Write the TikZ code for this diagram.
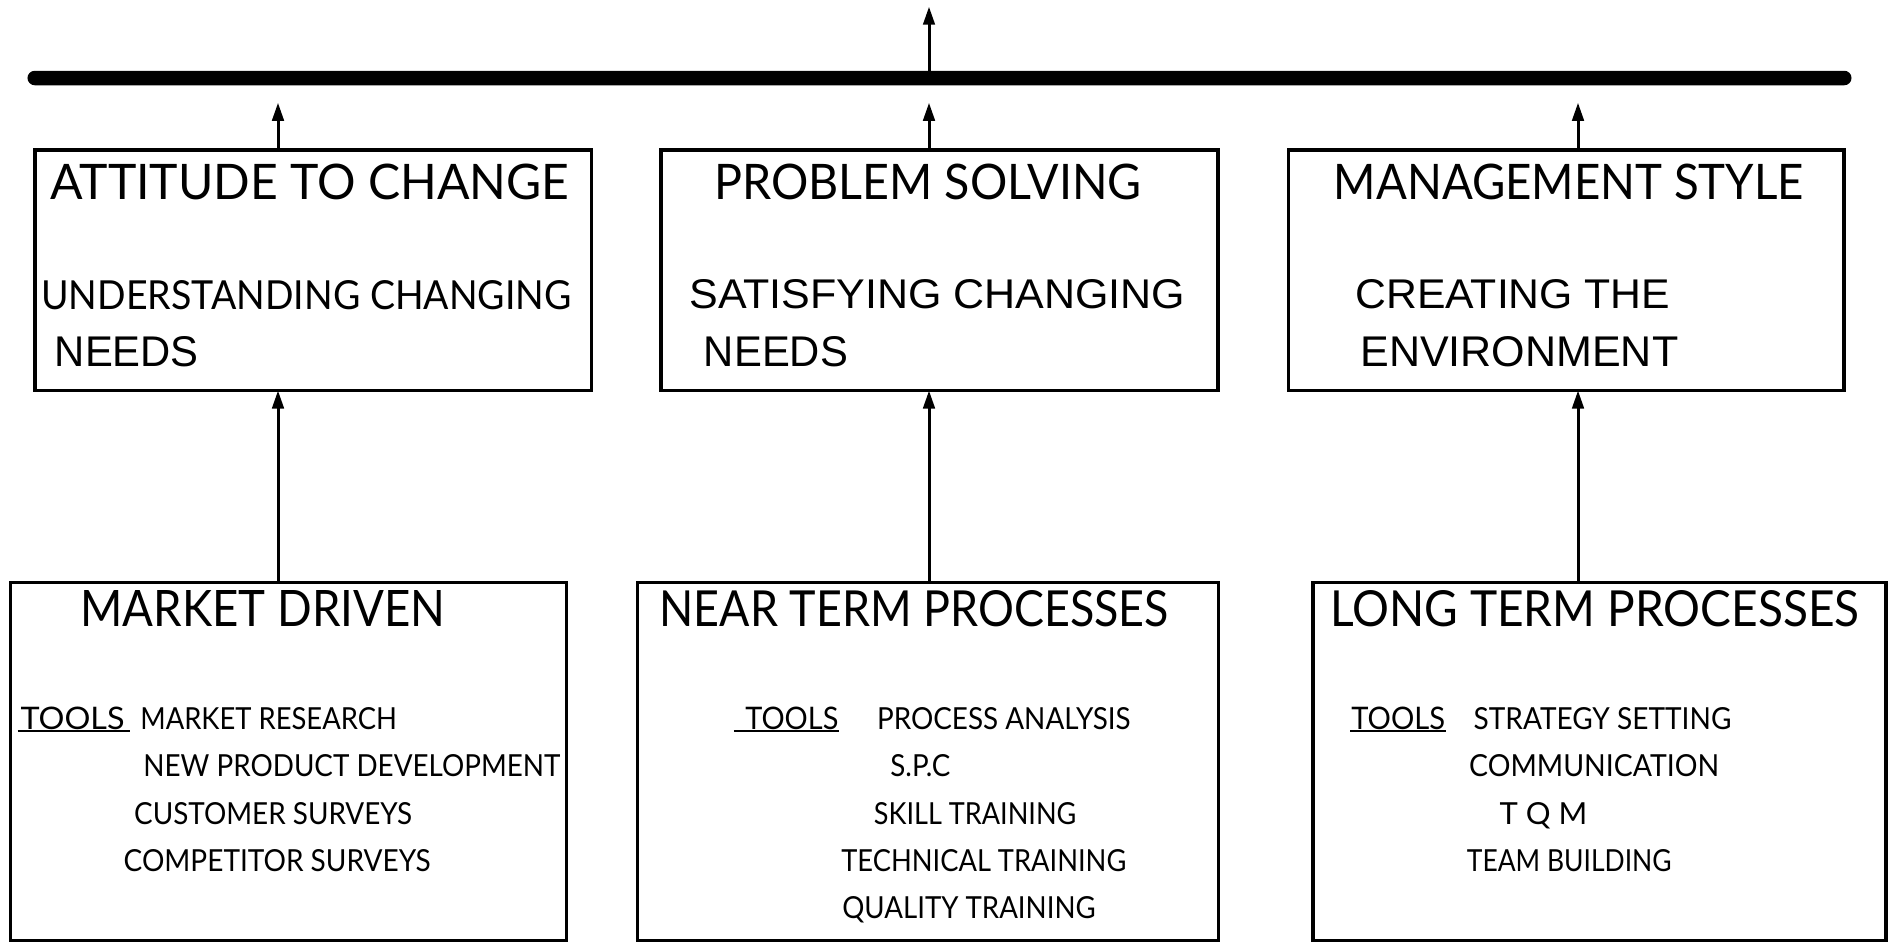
\documentclass[tikz,border=0pt]{standalone}
\usepackage{fontspec}
\usepackage{graphicx}
\usetikzlibrary{arrows.meta}
\newfontfamily\optf{Lato}
\newfontfamily\helv{Liberation Sans}
\newlength\pxu
\setlength\pxu{0.2mm}
\newcommand\txt[7]{\node[anchor=base west,inner sep=0pt] (#1) at (#2,#3) {\resizebox{#4\pxu}{#5\pxu}{#6#7}};}
\tikzset{
  boxT/.style={draw, line width=0.64mm, inner sep=0pt, outer sep=0pt, minimum height=48.1mm},
  boxB/.style={draw, line width=0.7mm, inner sep=0pt, outer sep=0pt, minimum height=71.52mm},
  arr/.style={line width=0.6mm, -{Triangle[length=3.6mm,width=2.3mm]}},
  uline/.style={line width=0.4mm}
}
\begin{document}
\begin{tikzpicture}[x=0.2mm,y=-0.2mm]
\useasboundingbox (0,0) rectangle (1889,942);
% bar
\node[fill=black, rounded corners=1.45mm, inner sep=0pt, outer sep=0pt, minimum width=364.8mm, minimum height=2.9mm] (bar) at (939.5,78) {};
% boxes
\node[boxT, minimum width=111.3mm] (t1) at (313.25,270.25) {};
\node[boxT, minimum width=111.4mm] (t2) at (939.5,270.25) {};
\node[boxT, minimum width=111.06mm] (t3) at (1566.35,270.25) {};
\node[boxB, minimum width=111.2mm] (bA) at (288.7,761.5) {};
\node[boxB, minimum width=116.12mm] (bB) at (928,761.5) {};
\node[boxB, minimum width=114.6mm] (bC) at (1599.5,761.5) {};
% column coordinates
\coordinate (c1) at (278,0);
\coordinate (c2) at (929,0);
\coordinate (c3) at (1578,0);
\coordinate (topend) at (929,6.7);
% connectors
\draw[arr] (bar.north -| c2) -- (topend);
\draw[arr, shorten >=3.5mm] (t1.north -| c1) -- (bar.south -| c1);
\draw[arr, shorten >=3.5mm] (t2.north -| c2) -- (bar.south -| c2);
\draw[arr, shorten >=3.5mm] (t3.north -| c3) -- (bar.south -| c3);
\draw[arr] (bA.north -| c1) -- (t1.south -| c1);
\draw[arr] (bB.north -| c2) -- (t2.south -| c2);
\draw[arr] (bC.north -| c3) -- (t3.south -| c3);
% top box texts
\txt{h1}{50}{199.5}{519}{35.5}{\optf}{ATTITUDE TO CHANGE}
\txt{s1}{41}{309}{530}{29}{\optf}{UNDERSTANDING CHANGING}
\txt{n1}{54.5}{366.7}{144}{30}{\helv}{NEEDS}
\txt{h2}{714}{199.5}{427}{35.5}{\optf}{PROBLEM SOLVING}
\txt{s2}{689}{308.5}{496}{29}{\helv}{SATISFYING CHANGING}
\txt{n2}{703.6}{366.7}{144}{30}{\helv}{NEEDS}
\txt{h3}{1333.5}{199}{470}{35.5}{\optf}{MANAGEMENT STYLE}
\txt{s3}{1355}{308.5}{315}{29}{\helv}{CREATING THE}
\txt{n3}{1360}{366.7}{318}{30}{\helv}{ENVIRONMENT}
% bottom box texts
\txt{hA}{80}{626.5}{365}{36}{\optf}{MARKET DRIVEN}
\txt{tA}{20.2}{729}{104}{22.5}{\optf}{TOOLS}
\txt{A1}{140}{729}{256.5}{22}{\optf}{MARKET RESEARCH}
\txt{A2}{143}{776.5}{417}{22}{\optf}{NEW PRODUCT DEVELOPMENT}
\txt{A3}{133.8}{824}{278}{22}{\optf}{CUSTOMER SURVEYS}
\txt{A4}{123.3}{871.5}{307}{22}{\optf}{COMPETITOR SURVEYS}
\txt{hB}{659.3}{626.5}{509}{36}{\optf}{NEAR TERM PROCESSES}
\txt{tB}{745}{729}{93}{22.5}{\optf}{TOOLS}
\txt{B1}{876.7}{729}{253.6}{22}{\optf}{PROCESS ANALYSIS}
\txt{B2}{890}{776.5}{60}{22}{\optf}{S.P.C}
\txt{B3}{873.6}{824}{202.4}{22}{\optf}{SKILL TRAINING}
\txt{B4}{841}{871.5}{285}{22}{\optf}{TECHNICAL TRAINING}
\txt{B5}{842}{918}{253.4}{22}{\optf}{QUALITY TRAINING}
\txt{hC}{1330}{626.5}{529}{36}{\optf}{LONG TERM PROCESSES}
\txt{tC}{1351}{729}{93.7}{22.5}{\optf}{TOOLS}
\txt{C1}{1473.3}{729}{257.7}{22}{\optf}{STRATEGY SETTING}
\txt{C2}{1468.8}{776.5}{250}{22}{\optf}{COMMUNICATION}
\txt{C3}{1499.3}{824}{87.7}{22}{\optf}{T Q M}
\txt{C4}{1466.5}{871.5}{204.7}{22}{\optf}{TEAM BUILDING}
% underlines
\draw[uline] (17.7,731) -- (129.6,731);
\draw[uline] (733.8,731) -- (838.8,731);
\draw[uline] (1350,731) -- (1446,731);
\end{tikzpicture}
\end{document}
